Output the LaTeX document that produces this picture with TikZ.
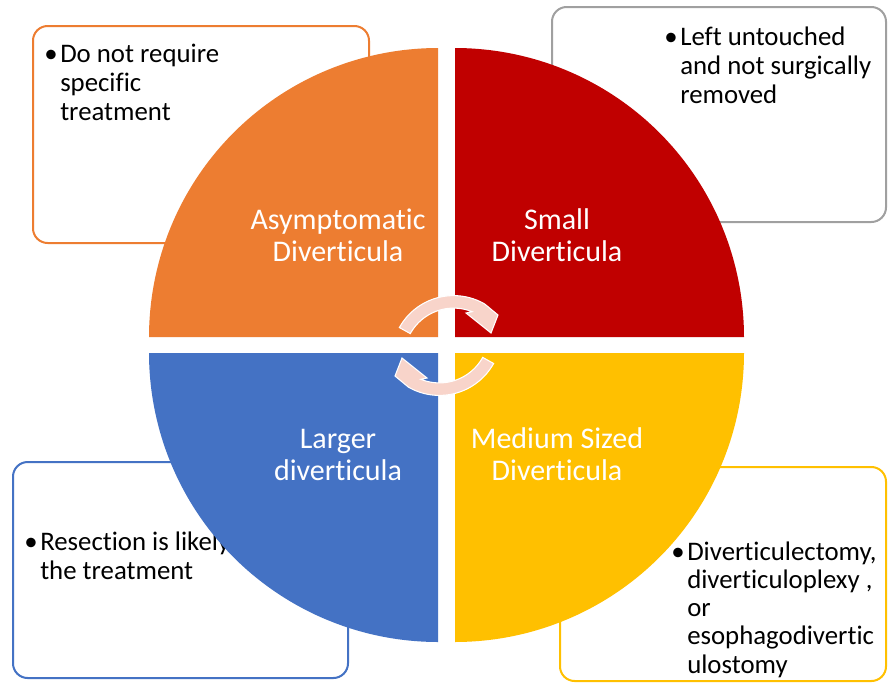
\documentclass[tikz,border=0pt]{standalone}
\usepackage{fontspec}
\setmainfont{Carlito}[Ligatures=CommonOff]
\definecolor{qorange}{HTML}{ED7D31}
\definecolor{qred}{HTML}{C00000}
\definecolor{qblue}{HTML}{4472C4}
\definecolor{qyellow}{HTML}{FFC000}
\definecolor{qgray}{HTML}{A0A0A0}
\definecolor{arrowpink}{RGB}{248,212,202}
\begin{document}
\begin{tikzpicture}[x=0.75pt,y=-0.75pt,
  note/.style={line width=1.5pt, rounded corners=11pt, fill=white},
  qlabel/.style={anchor=base, inner sep=0pt, text=white, font=\fontsize{22.5}{24}\selectfont},
  btext/.style={anchor=base west, inner sep=0pt, text=black, font=\fontsize{20.1}{21.75}\selectfont},
  btextb/.style={anchor=base west, inner sep=0pt, text=black, font=\fontsize{20.1}{21.2}\selectfont},
  cyc/.style={fill=arrowpink, draw=white, line width=0.8pt}]
\useasboundingbox (0,0) rectangle (888,683);
\fill[white] (0,0) rectangle (888,683);

% note boxes
\draw[note, draw=qorange] (33,26) rectangle (369,243);
\draw[note, draw=qgray] (552,7) rectangle (886,222);
\draw[note, draw=qblue] (13,462) rectangle (348,678);
\draw[note, draw=qyellow] (560,467) rectangle (886,681);

\node[btext] (t1) at (60,62) {\begin{tabular}[t]{@{}l@{}}\llap{•\kern2pt}Do not require\\specific\\treatment\end{tabular}};
\node[btext] (t2) at (680,45) {\begin{tabular}[t]{@{}l@{}}\llap{•\kern2pt}Left untouched\\and not surgically\\removed\end{tabular}};
\node[btext] (t3) at (40,550) {\begin{tabular}[t]{@{}l@{}}\llap{•\kern2pt}Resection is likely\\the treatment\end{tabular}};
\node[btextb] (t4) at (687,560) {\begin{tabular}[t]{@{}l@{}}\llap{•\kern2pt}Diverticulectomy,\\diverticuloplexy ,\\or\\esophagodivertic\\ulostomy\end{tabular}};

% quadrants
\fill[qorange] (438,337) -- plot[domain=180:270,samples=80] ({438+289*cos(\x)},{337+289*sin(\x)}) -- cycle;
\fill[qred] (455,337) -- plot[domain=270:360,samples=80] ({455+289*cos(\x)},{337+289*sin(\x)}) -- cycle;
\fill[qyellow] (455,353) -- plot[domain=0:90,samples=80] ({455+289*cos(\x)},{353+289*sin(\x)}) -- cycle;
\fill[qblue] (438,353) -- plot[domain=90:180,samples=80] ({438+289*cos(\x)},{353+289*sin(\x)}) -- cycle;

% circular arrows
\draw[cyc] plot[domain=-151:-60,samples=40] ({453.6+62*cos(\x)},{357.6+62*sin(\x)})
  -- (498,315) -- (491,333) -- (466,313)
  -- plot[domain=-68:-151,samples=40] ({453.6+49.5*cos(\x)},{357.6+49.5*sin(\x)}) -- cycle;
\begin{scope}[rotate around={180:(446.5,345.5)}]
\draw[cyc] plot[domain=-151:-60,samples=40] ({453.6+62*cos(\x)},{357.6+62*sin(\x)})
  -- (498,315) -- (491,333) -- (466,313)
  -- plot[domain=-68:-151,samples=40] ({453.6+49.5*cos(\x)},{357.6+49.5*sin(\x)}) -- cycle;
\end{scope}

% labels
\node[qlabel] (l1) at (338,229) {\begin{tabular}[t]{@{}c@{}}Asymptomatic\\Diverticula\end{tabular}};
\node[qlabel] (l2) at (557,229) {\begin{tabular}[t]{@{}c@{}}Small\\Diverticula\end{tabular}};
\node[qlabel] (l3) at (338,448) {\begin{tabular}[t]{@{}c@{}}Larger\\diverticula\end{tabular}};
\node[qlabel] (l4) at (557,448) {\begin{tabular}[t]{@{}c@{}}Medium Sized\\Diverticula\end{tabular}};
\end{tikzpicture}
\end{document}
